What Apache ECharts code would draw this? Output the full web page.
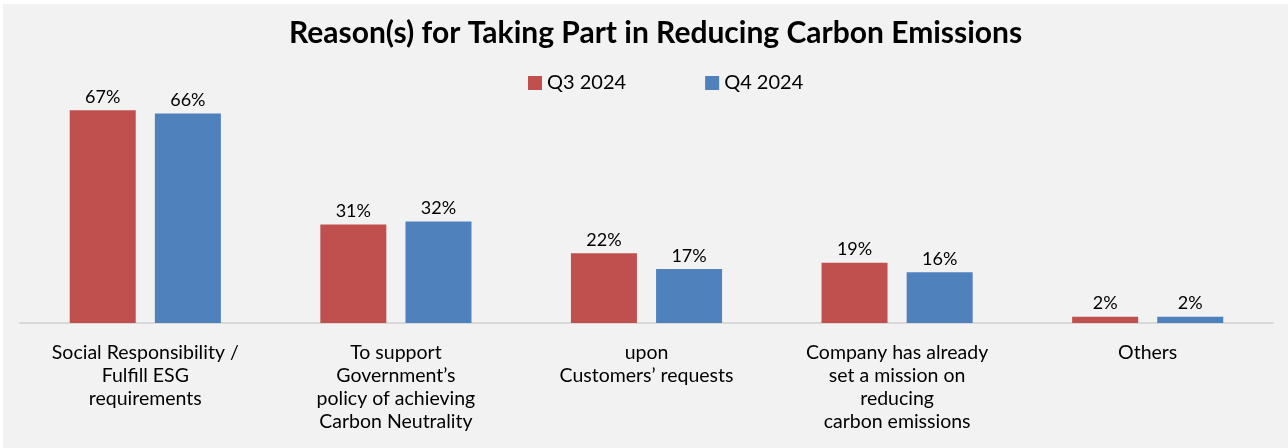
<!DOCTYPE html>
<html>
<head>
<meta charset="utf-8">
<script src="https://cdn.jsdelivr.net/npm/echarts@6/dist/echarts.min.js"></script>
<style>
  html, body { margin: 0; padding: 0; background: #ffffff; }
  #frame { position: absolute; left: 3px; top: 4px; width: 1285px; height: 444px; background: #f2f2f2; }
  #chart { position: absolute; left: -3px; top: -4px; width: 1288px; height: 448px; }
</style>
</head>
<body>
<div id="frame"><div id="chart"></div></div>
<script>
// Survey categories (multi-line labels as shown under the axis)
const categories = [
  'Social Responsibility /\nFulfill ESG\nrequirements',
  'To support\nGovernment\u2019s\npolicy of achieving\nCarbon Neutrality',
  'upon\nCustomers\u2019 requests',
  'Company has already\nset a mission on\nreducing\ncarbon emissions',
  'Others'
];
// Share of respondents (%)
const q3_2024 = [67, 31, 22, 19, 2];
const q4_2024 = [66, 32, 17, 16, 2];
const seriesNames = ['Q3 2024', 'Q4 2024'];

const FONT = 'Lato, "Open Sans", sans-serif';
const chart = echarts.init(document.getElementById('chart'), null, { renderer: 'canvas' });

const barLabel = {
  show: true,
  position: 'top',
  distance: 4,
  formatter: '{c}%',
  color: '#000000',
  fontFamily: FONT,
  fontSize: 18
};

chart.setOption({
  backgroundColor: 'transparent',
  animation: false,
  title: {
    text: 'Reason(s) for Taking Part in Reducing Carbon Emissions',
    left: 284,
    top: 13,
    textStyle: { fontFamily: FONT, fontSize: 30, fontWeight: 'bold', color: '#000000' }
  },
  legend: {
    data: seriesNames,
    left: 523,
    top: 68,
    icon: 'rect',
    itemWidth: 14,
    itemHeight: 14,
    itemGap: 79,
    textStyle: { fontFamily: FONT, fontSize: 20, color: '#000000' }
  },
  grid: { left: 20, right: 15, top: 69, bottom: 125, containLabel: false },
  xAxis: {
    type: 'category',
    data: categories,
    axisLine: { show: true, lineStyle: { color: '#d9d9d9', width: 2 } },
    axisTick: { show: false },
    axisLabel: {
      interval: 0,
      margin: 18,
      fontFamily: FONT,
      fontSize: 19.5,
      lineHeight: 23,
      color: '#000000',
      align: 'center'
    }
  },
  yAxis: {
    type: 'value',
    min: 0,
    max: 80,
    show: false,
    splitLine: { show: false }
  },
  series: [
    {
      name: seriesNames[0],
      type: 'bar',
      data: q3_2024,
      barWidth: 66,
      barGap: '29%',
      itemStyle: { color: '#c0504d' },
      label: barLabel
    },
    {
      name: seriesNames[1],
      type: 'bar',
      data: q4_2024,
      barWidth: 66,
      barGap: '29%',
      itemStyle: { color: '#4f81bd' },
      label: barLabel
    }
  ]
});
</script>
</body>
</html>
